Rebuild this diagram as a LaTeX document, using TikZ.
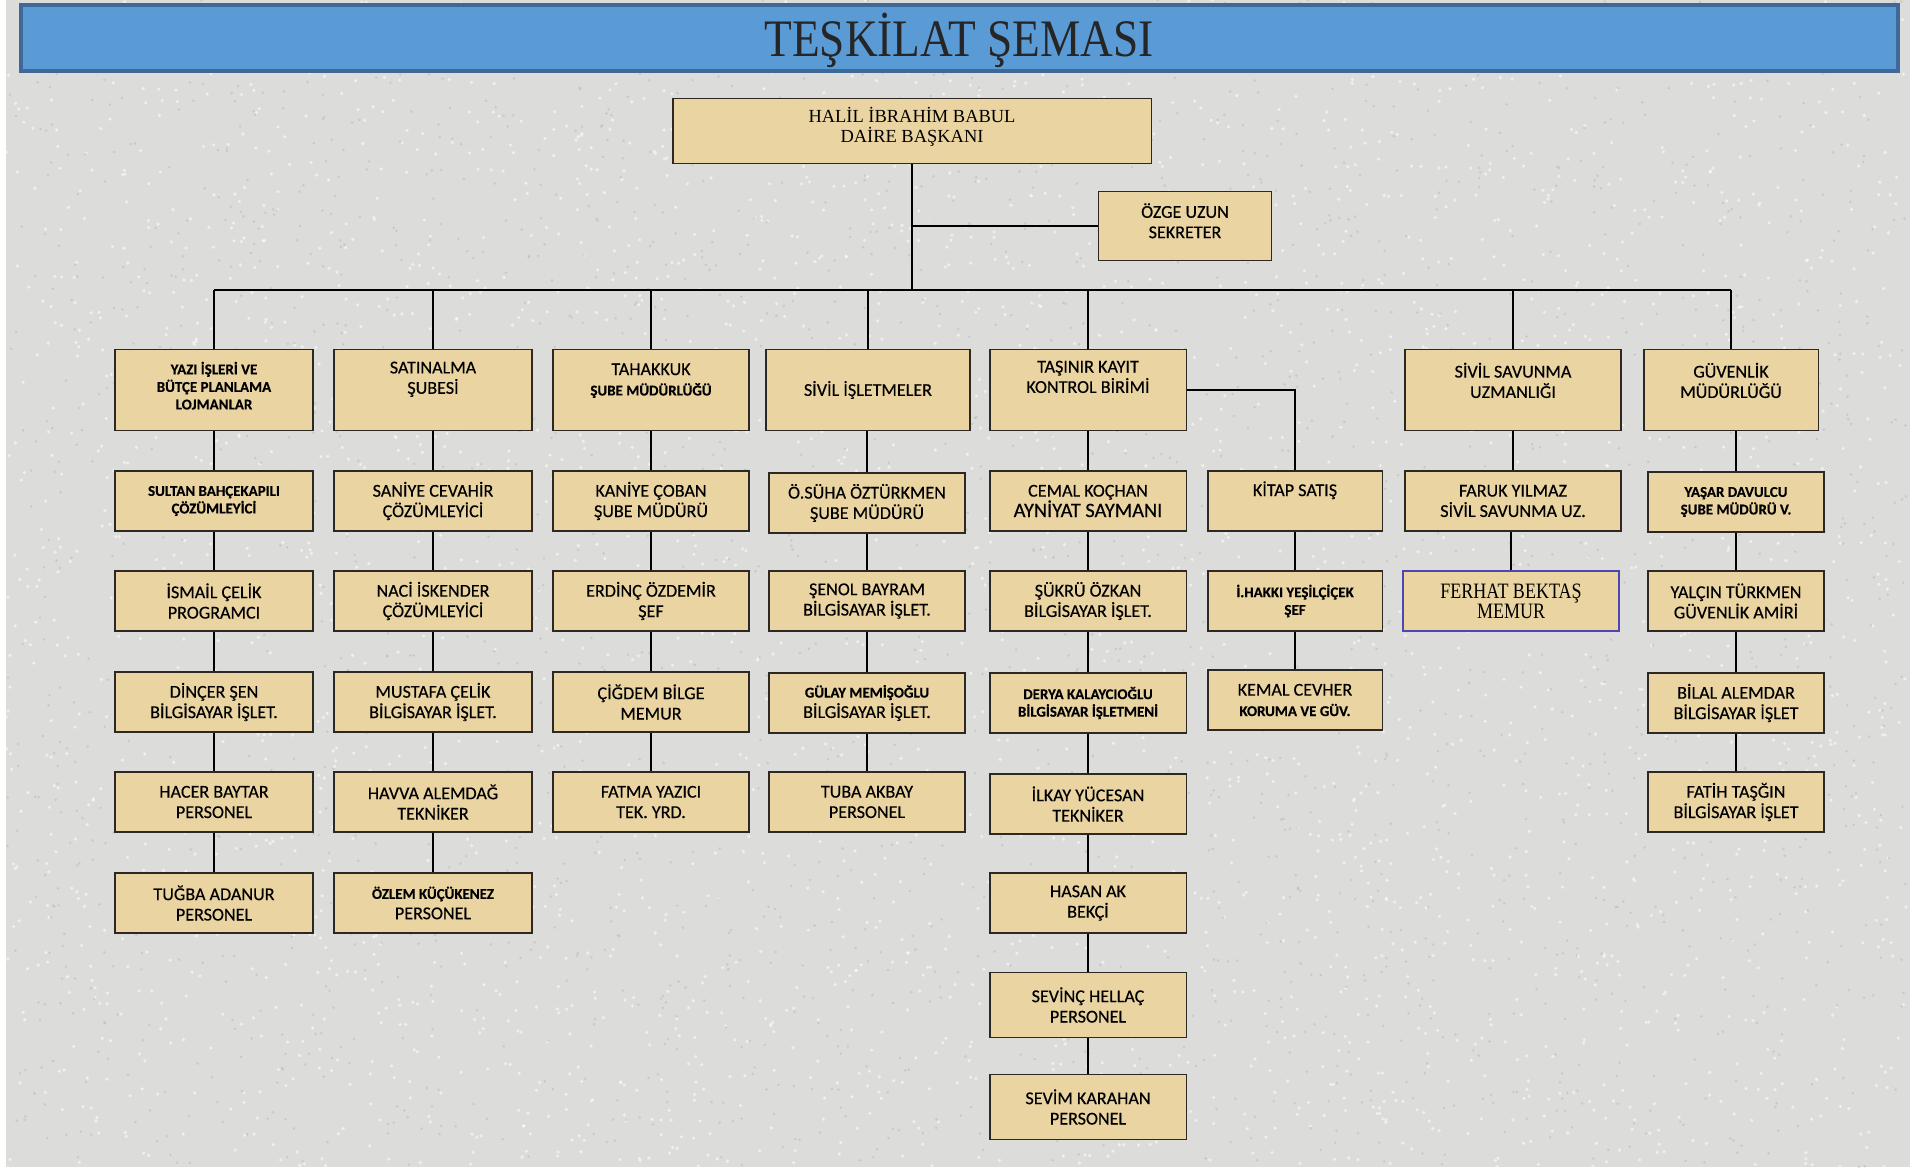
\documentclass[tikz,border=0pt]{standalone}
\usepackage{fontspec}
\setmainfont[FakeBold=0.35]{Carlito}
\newfontfamily\boxserif{Liberation Serif}
\newfontfamily\narrowserif[FakeStretch=0.82]{Liberation Serif}
\newfontfamily\titleserif[FakeStretch=0.86]{Liberation Serif}
\usetikzlibrary{calc}

\definecolor{paper}{RGB}{234,213,162}
\definecolor{granite}{RGB}{220,220,218}
\definecolor{banner}{RGB}{91,155,213}
\definecolor{bannerline}{RGB}{62,104,150}
\definecolor{frame}{RGB}{45,40,35}
\definecolor{ferhatline}{RGB}{80,70,175}

\newcommand{\sbold}{\fontsize{8.5}{10}\selectfont\bfseries}

\begin{document}
\begin{tikzpicture}[x=0.02cm, y=-0.02cm,
    card/.style={draw=frame, line width=1.1pt, fill=paper, align=center, inner sep=2pt,
      minimum height=1.2cm, font=\fontsize{10.3}{11.6}\selectfont},
    dept/.style={card, minimum height=1.62cm},
    tall/.style={card, minimum height=1.3cm},
    smalltext/.style={font=\sbold},
    lift/.style={text depth=#1},
    wA/.style={minimum width=3.96cm}, wB/.style={minimum width=3.96cm},
    wC/.style={minimum width=3.92cm}, wD/.style={minimum width=3.92cm},
    wE/.style={minimum width=3.94cm}, wF/.style={minimum width=3.5cm},
    wG/.style={minimum width=4.32cm}, wH/.style={minimum width=3.52cm},
    link/.style={draw=black, line width=0.9pt}]
  \useasboundingbox (0,0) rectangle (1926,1167);
  \fill[granite] (6,0) rectangle (1910,1167);
  % granite speckles
  \pgfmathsetseed{7}
  \foreach \i in {1,...,3500}
    \fill[white, opacity=0.55] (6+1900*rnd, 1167*rnd) circle (1.8);
  \foreach \i in {1,...,2500}
    \fill[gray!60, opacity=0.45] (6+1900*rnd, 1167*rnd) circle (1.4);

  % title banner
  \draw[fill=banner, draw=bannerline, line width=2pt] (21,5) rectangle (1898,71);
  \node[font=\titleserif\fontsize{30}{32}\selectfont, text=black!85] (title) at (959,40) {TEŞKİLAT ŞEMASI};

  % head and secretary
  \node[card, minimum width=9.58cm, minimum height=1.3cm, lift=7pt,
    font=\boxserif\fontsize{10.5}{11}\selectfont] (baskan) at (912,131) {HALİL İBRAHİM BABUL\\DAİRE BAŞKANI};
  \node[card, minimum width=3.46cm, minimum height=1.38cm, lift=6pt] (sekreter) at (1185,226) {ÖZGE UZUN\\SEKRETER};
  \coordinate (bus) at (0,290);
  \draw[link] (baskan.south) -- (baskan.south |- bus);
  \draw[link] (baskan.south |- sekreter.west) -- (sekreter.west);

  % departments
  \node[dept, wA, smalltext, lift=5pt] (yazi) at (214,390) {YAZI İŞLERİ VE\\BÜTÇE PLANLAMA\\LOJMANLAR};
  \node[dept, wB, lift=14pt] (satinalma) at (433,390) {SATINALMA\\ŞUBESİ};
  \node[dept, wC, lift=12pt] (tahakkuk) at (651,390) {TAHAKKUK\\{\sbold ŞUBE MÜDÜRLÜĞÜ}};
  \node[dept, minimum width=4.08cm] (isletme) at (868,390) {SİVİL İŞLETMELER};
  \node[dept, wE, lift=15pt] (tasinir) at (1088,390) {TAŞINIR KAYIT\\KONTROL BİRİMİ};
  \node[dept, wG, lift=11pt] (savunma) at (1513,390) {SİVİL SAVUNMA\\UZMANLIĞI};
  \node[dept, minimum width=3.5cm, lift=11pt] (guvenlik) at (1731,390) {GÜVENLİK\\MÜDÜRLÜĞÜ};
  \draw[link] (yazi.north |- bus) -- (guvenlik.north |- bus);
  \foreach \d in {yazi, satinalma, tahakkuk, isletme, tasinir, savunma, guvenlik}
    \draw[link] (\d.north |- bus) -- (\d.north);

  % column A
  \node[card, wA, smalltext] (sultan) at (214,501) {SULTAN BAHÇEKAPILI\\ÇÖZÜMLEYİCİ};
  \node[card, wA] (ismail) at (214,601) {İSMAİL ÇELİK\\PROGRAMCI};
  \node[card, wA] (dincer) at (214,702) {DİNÇER ŞEN\\BİLGİSAYAR İŞLET.};
  \node[card, wA] (hacer) at (214,802) {HACER BAYTAR\\PERSONEL};
  \node[card, wA] (tugba) at (214,903) {TUĞBA ADANUR\\PERSONEL};
  % column B
  \node[card, wB] (saniye) at (433,501) {SANİYE CEVAHİR\\ÇÖZÜMLEYİCİ};
  \node[card, wB] (naci) at (433,601) {NACİ İSKENDER\\ÇÖZÜMLEYİCİ};
  \node[card, wB] (mustafa) at (433,702) {MUSTAFA ÇELİK\\BİLGİSAYAR İŞLET.};
  \node[card, wB] (havva) at (433,802) {HAVVA ALEMDAĞ\\TEKNİKER};
  \node[card, wB] (ozlem) at (433,903) {{\sbold ÖZLEM KÜÇÜKENEZ}\\PERSONEL};
  % column C
  \node[card, wC] (kaniye) at (651,501) {KANİYE ÇOBAN\\ŞUBE MÜDÜRÜ};
  \node[card, wC] (erdinc) at (651,601) {ERDİNÇ ÖZDEMİR\\ŞEF};
  \node[card, wC] (cigdem) at (651,702) {ÇİĞDEM BİLGE\\MEMUR};
  \node[card, wC] (fatma) at (651,802) {FATMA YAZICI\\TEK. YRD.};
  % column D
  \node[card, wD] (suha) at (867,503) {Ö.SÜHA ÖZTÜRKMEN\\ŞUBE MÜDÜRÜ};
  \node[card, wD] (senol) at (867,601) {ŞENOL BAYRAM\\BİLGİSAYAR İŞLET.};
  \node[card, wD] (gulay) at (867,703) {{\sbold GÜLAY MEMİŞOĞLU}\\BİLGİSAYAR İŞLET.};
  \node[card, wD] (tuba) at (867,802) {TUBA AKBAY\\PERSONEL};
  % column E
  \node[card, wE] (cemal) at (1088,501) {CEMAL KOÇHAN\\{\fontsize{11.6}{13}\selectfont AYNİYAT SAYMANI}};
  \node[card, wE] (sukru) at (1088,601) {ŞÜKRÜ ÖZKAN\\BİLGİSAYAR İŞLET.};
  \node[card, wE, smalltext] (derya) at (1088,703) {DERYA KALAYCIOĞLU\\BİLGİSAYAR İŞLETMENİ};
  \node[card, wE] (ilkay) at (1088,804) {İLKAY YÜCESAN\\TEKNİKER};
  \node[card, wE] (hasan) at (1088,903) {HASAN AK\\BEKÇİ};
  \node[tall, wE] (sevinc) at (1088,1005) {SEVİNÇ HELLAÇ\\PERSONEL};
  \node[tall, wE] (sevim) at (1088,1107) {SEVİM KARAHAN\\PERSONEL};
  % column F
  \node[card, wF, lift=14pt] (kitap) at (1295,501) {KİTAP SATIŞ};
  \node[card, wF, smalltext] (hakki) at (1295,601) {İ.HAKKI YEŞİLÇİÇEK\\ŞEF};
  \node[card, wF] (kemal) at (1295,700) {KEMAL CEVHER\\{\sbold KORUMA VE GÜV.}};
  % column G
  \node[card, wG] (faruk) at (1513,501) {FARUK YILMAZ\\SİVİL SAVUNMA UZ.};
  \node[card, wG, draw=ferhatline, line width=0.8pt,
    font=\narrowserif\fontsize{12.5}{11.5}\selectfont] (ferhat) at (1511,601) {FERHAT BEKTAŞ\\MEMUR};
  % column H
  \node[card, wH, smalltext] (yasar) at (1736,502) {YAŞAR DAVULCU\\ŞUBE MÜDÜRÜ V.};
  \node[card, wH] (yalcin) at (1736,601) {YALÇIN TÜRKMEN\\GÜVENLİK AMİRİ};
  \node[card, wH] (bilal) at (1736,703) {BİLAL ALEMDAR\\BİLGİSAYAR İŞLET};
  \node[card, wH] (fatih) at (1736,802) {FATİH TAŞĞIN\\BİLGİSAYAR İŞLET};

  % chains
  \foreach \a/\b in {yazi/sultan, sultan/ismail, ismail/dincer, dincer/hacer, hacer/tugba,
      satinalma/saniye, saniye/naci, naci/mustafa, mustafa/havva, havva/ozlem,
      tahakkuk/kaniye, kaniye/erdinc, erdinc/cigdem, cigdem/fatma,
      isletme/suha, suha/senol, senol/gulay, gulay/tuba,
      tasinir/cemal, cemal/sukru, sukru/derya, derya/ilkay, ilkay/hasan, hasan/sevinc, sevinc/sevim,
      kitap/hakki, hakki/kemal, savunma/faruk, faruk/ferhat,
      guvenlik/yasar, yasar/yalcin, yalcin/bilal, bilal/fatih}
    \draw[link] (\b.north |- \a.south) -- (\b.north);
  \draw[link] (tasinir.east) -| (kitap.north);
\end{tikzpicture}
\end{document}
